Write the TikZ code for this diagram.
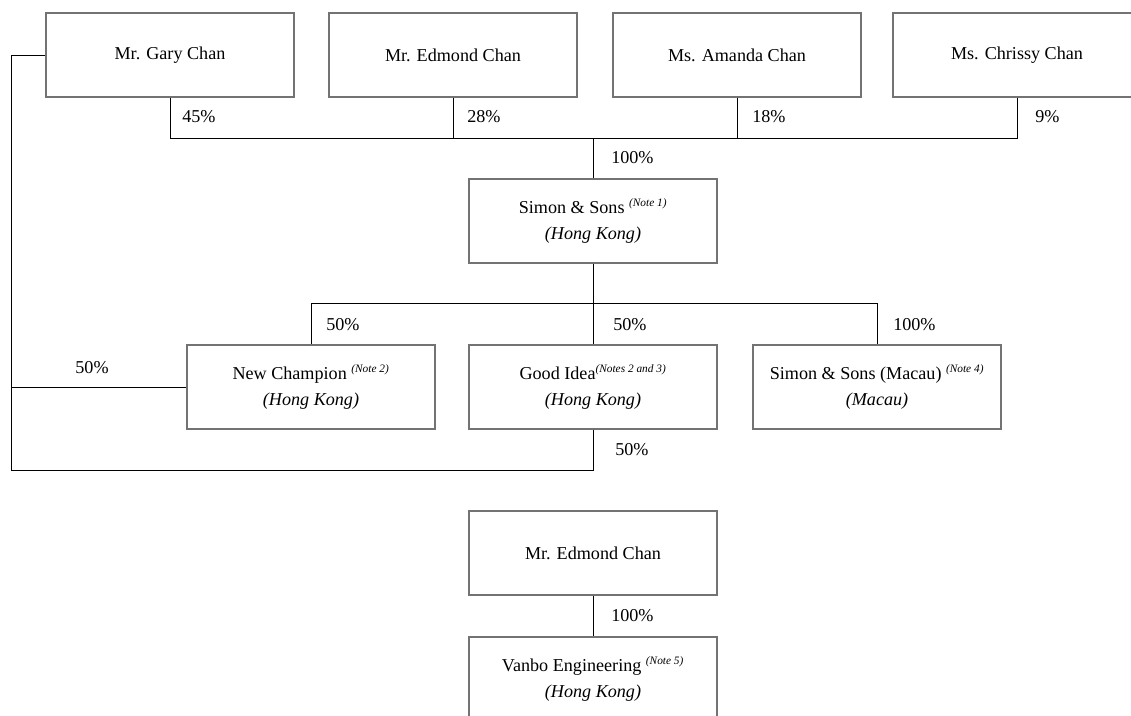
\documentclass[tikz,border=0pt]{standalone}
\usepackage{fontspec}
\setmainfont{Liberation Serif}
\newcommand{\notemark}[1]{\textsuperscript{\itshape\fontsize{8.5}{9}\selectfont #1}}

\begin{document}
\begin{tikzpicture}[x=0.75pt,y=-0.75pt,
every node/.style={font=\fontsize{13.6}{19.5}\selectfont},
box/.style={draw=black!55,line width=0.9pt,minimum width=186pt,minimum height=63pt,align=center,inner sep=0pt},
pct/.style={anchor=west,inner sep=0pt},
link/.style={draw=black,line width=0.6pt}]
\useasboundingbox (0,0) rectangle (1131,715);
\clip (0,0) rectangle (1131,715);

% shareholders
\node[box] (gary) at (170,55) {Mr. Gary Chan};
\node[box] (edmond) at (453,55) {Mr. Edmond Chan};
\node[box] (amanda) at (737,55) {Ms. Amanda Chan};
\node[box] (chrissy) at (1017,55) {Ms. Chrissy Chan};

\node[box] (simon) at (593,221) {Simon \& Sons \notemark{(Note 1)}\\ \textit{(Hong Kong)}};

\node[box] (champion) at (311,387) {New Champion \notemark{(Note 2)}\\ \textit{(Hong Kong)}};
\node[box] (idea) at (593,387) {Good Idea\notemark{(Notes 2 and 3)}\\ \textit{(Hong Kong)}};
\node[box] (macau) at (877,387) {Simon \& Sons (Macau) \notemark{(Note 4)}\\ \textit{(Macau)}};

\node[box] (edmond2) at (593,553) {Mr. Edmond Chan};
\node[box] (vanbo) at (593,679) {Vanbo Engineering \notemark{(Note 5)}\\ \textit{(Hong Kong)}};

\coordinate (bus1) at (593,138);
\coordinate (bus2) at (593,303);
\coordinate (loopL) at (11,56);
\coordinate (loopB) at (11,470);

% connectors
\draw[link] (gary.south) |- (chrissy.south |- bus1) -- (chrissy.south);
\draw[link] (edmond.south) -- (edmond.south |- bus1);
\draw[link] (amanda.south) -- (amanda.south |- bus1);
\draw[link] (bus1) -- (simon.north);
\draw[link] (simon.south) -- (bus2);
\draw[link] (champion.north) |- (macau.north |- bus2) -- (macau.north);
\draw[link] (bus2) -- (idea.north);
\draw[link] (gary.west) -- (gary.west -| loopL) -- (loopB) -| (idea.south);
\draw[link] (champion.west) -- (champion.west -| loopL);
\draw[link] (edmond2.south) -- (vanbo.north);

% percentages
\node[pct] (p45) at (182,117) {45\%};
\node[pct] (p28) at (467,117) {28\%};
\node[pct] (p18) at (752,117) {18\%};
\node[pct] (p9) at (1035,117) {9\%};
\node[pct] (p100a) at (611,158) {100\%};
\node[pct] (p50a) at (326,325) {50\%};
\node[pct] (p50b) at (613,325) {50\%};
\node[pct] (p100b) at (893,325) {100\%};
\node (p50c) at (92,368) {50\%};
\node[pct] (p50d) at (615,450) {50\%};
\node[pct] (p100c) at (611,616) {100\%};
\end{tikzpicture}
\end{document}
